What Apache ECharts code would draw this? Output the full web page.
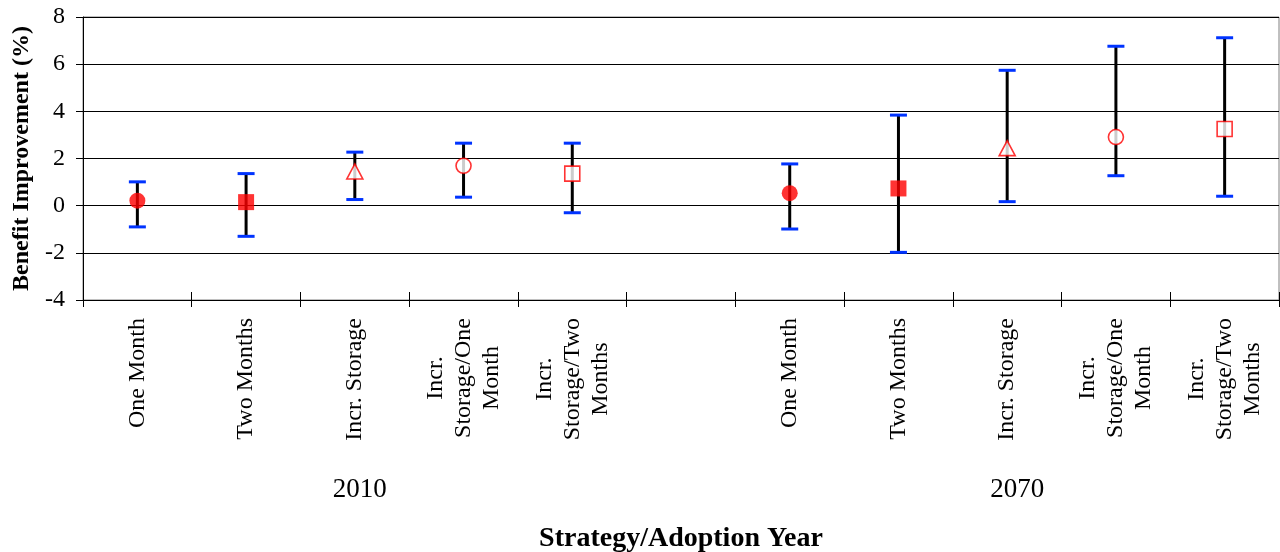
<!DOCTYPE html>
<html><head><meta charset="utf-8">
<script src="https://cdn.jsdelivr.net/npm/echarts@6/dist/echarts.min.js"></script>
<style>html,body{margin:0;padding:0;background:#fff}#c{width:1280px;height:552px}</style>
</head><body><div id="c"></div>
<script>
const categories = ['One Month', 'Two Months', 'Incr. Storage', 'Incr.\nStorage/One\nMonth', 'Incr.\nStorage/Two\nMonths', '',
  'One Month', 'Two Months', 'Incr. Storage', 'Incr.\nStorage/One\nMonth', 'Incr.\nStorage/Two\nMonths'];
const years = ['2010', '2070'];
const meanValues = [0.21, 0.15, 1.45, 1.69, 1.36, null, 0.53, 0.73, 2.44, 2.91, 3.25];
const lowValues  = [-0.90, -1.30, 0.26, 0.36, -0.30, null, -0.99, -1.98, 0.17, 1.27, 0.40];
const highValues = [1.01, 1.36, 2.27, 2.65, 2.65, null, 1.77, 3.84, 5.74, 6.76, 7.12];
const markerKinds = ['filledCircle', 'filledSquare', 'openTriangle', 'openCircle', 'openSquare', null,
  'filledCircle', 'filledSquare', 'openTriangle', 'openCircle', 'openSquare'];
const yMin = -4, yMax = 8, yStep = 2;

const FONT = "Liberation Serif";
const RED = '#ff0000', BLUE = '#0033ff';
const markerStyle = {
  filledCircle: { symbol: 'circle', symbolSize: 16, itemStyle: { color: RED } },
  filledSquare: { symbol: 'rect', symbolSize: 16, itemStyle: { color: RED } },
  openTriangle: { symbol: 'triangle', symbolSize: [16, 15], itemStyle: { color: '#fff', borderColor: RED, borderWidth: 1.6 } },
  openCircle: { symbol: 'circle', symbolSize: 15, itemStyle: { color: '#fff', borderColor: RED, borderWidth: 1.6 } },
  openSquare: { symbol: 'rect', symbolSize: 15, itemStyle: { color: '#fff', borderColor: RED, borderWidth: 1.6 } }
};

const yearAxisData = categories.map((c, i) => i === 2 ? years[0] : (i === 8 ? years[1] : ''));
const barData = [];
const pointData = [];
categories.forEach((c, i) => {
  if (meanValues[i] == null) return;
  barData.push([i, lowValues[i], highValues[i]]);
  pointData.push(Object.assign({ value: [i, meanValues[i]] }, markerStyle[markerKinds[i]]));
});

const chart = echarts.init(document.getElementById('c'), null, { renderer: 'canvas' });
chart.setOption({
  animation: false,
  backgroundColor: '#fff',
  textStyle: { fontFamily: FONT, color: '#000' },
  grid: { left: 83, top: 17, right: 1, height: 283, containLabel: false, outerBoundsMode: 'none',
    show: true, borderColor: '#808080', borderWidth: 1, backgroundColor: 'transparent' },
  xAxis: [{
    type: 'category', data: categories, position: 'bottom',
    axisLine: { onZero: false, lineStyle: { color: '#000', width: 1 } },
    axisTick: { show: true, interval: 0, length: 7, lineStyle: { color: '#000' } },
    axisLabel: {
      interval: 0, rotate: 90, margin: 18, color: '#000', fontFamily: FONT, fontSize: 24, lineHeight: 28,
      formatter: v => v ? v.split('\n').map(s => '{c|' + s + '}').join('\n') : '',
      rich: { c: { align: 'center', fontFamily: FONT, fontSize: 24, lineHeight: 28, color: '#000' } }
    },
    name: 'Strategy/Adoption Year', nameLocation: 'middle', nameGap: 225,
    nameTextStyle: { fontFamily: FONT, fontSize: 28, fontWeight: 'bold', color: '#000' }
  }, {
    type: 'category', data: yearAxisData, position: 'bottom',
    axisLine: { show: false, onZero: false },
    axisTick: { show: true, inside: true, interval: 0, length: 8, lineStyle: { color: '#000' } },
    axisLabel: {
      interval: 0, margin: 176, color: '#000', fontFamily: FONT, fontSize: 27,
      formatter: v => v === years[0] ? '{a|' + v + '}' : (v === years[1] ? '{b|' + v + '}' : ''),
      rich: {
        a: { fontFamily: FONT, fontSize: 27, color: '#000', padding: [0, 0, 0, 10] },
        b: { fontFamily: FONT, fontSize: 27, color: '#000', padding: [0, 0, 0, 20] }
      }
    }
  }],
  yAxis: [{
    type: 'value', min: yMin, max: yMax, interval: yStep,
    axisLine: { show: true, lineStyle: { color: '#000', width: 1 } },
    axisTick: { show: true, length: 7, lineStyle: { color: '#000' } },
    axisLabel: {
      margin: 18, color: '#000', fontFamily: FONT, fontSize: 24,
      formatter: v => '{t|' + v + '}',
      rich: { t: { fontFamily: FONT, fontSize: 24, color: '#000' } }
    },
    splitLine: { show: true, lineStyle: { color: '#000', width: 1 } },
    name: 'Benefit Improvement (%)', nameLocation: 'middle', nameRotate: 90, nameGap: 47,
    nameTextStyle: { fontFamily: FONT, fontSize: 24, fontWeight: 'bold', color: '#000' }
  }, {
    type: 'value', min: yMin, max: yMax, interval: yStep, position: 'left',
    axisLine: { show: false }, axisLabel: { show: false }, splitLine: { show: false },
    axisTick: { show: true, inside: true, length: 4, lineStyle: { color: '#000' } }
  }],
  series: [{
    type: 'custom', xAxisIndex: 0, yAxisIndex: 0, data: barData,
    renderItem: (params, api) => {
      const lo = api.coord([api.value(0), api.value(1)]);
      const hi = api.coord([api.value(0), api.value(2)]);
      const x = lo[0], hw = 8.5;
      return { type: 'group', children: [
        { type: 'line', shape: { x1: x, y1: hi[1], x2: x, y2: lo[1] }, style: { stroke: '#000', lineWidth: 3 } },
        { type: 'line', shape: { x1: x - hw, y1: hi[1], x2: x + hw, y2: hi[1] }, style: { stroke: BLUE, lineWidth: 3 } },
        { type: 'line', shape: { x1: x - hw, y1: lo[1], x2: x + hw, y2: lo[1] }, style: { stroke: BLUE, lineWidth: 3 } }
      ] };
    }
  }, {
    type: 'scatter', xAxisIndex: 0, yAxisIndex: 0, data: pointData, z: 5
  }]
});
</script></body></html>
